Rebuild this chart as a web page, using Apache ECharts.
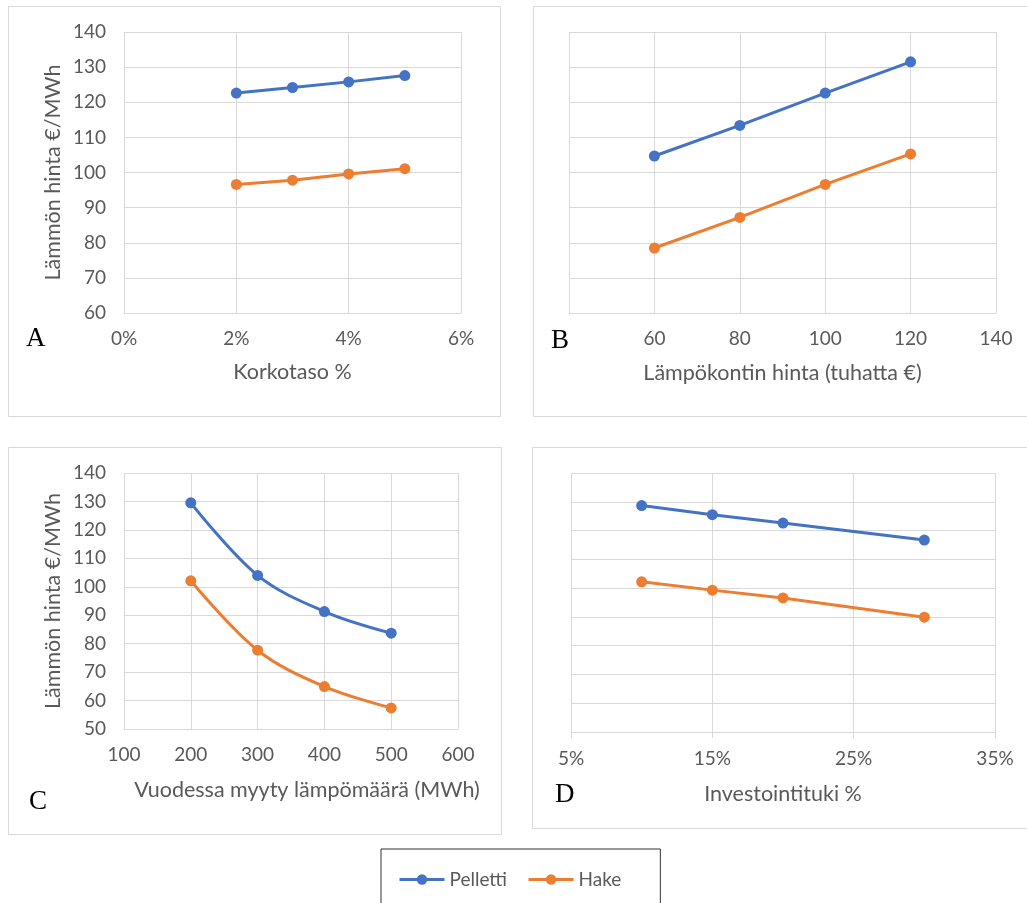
<!DOCTYPE html>
<html>
<head>
<meta charset="utf-8">
<script src="https://cdn.jsdelivr.net/npm/echarts@6/dist/echarts.min.js"></script>
<style>
  html, body { margin: 0; padding: 0; background: #ffffff; }
  #chart { width: 1027px; height: 903px; }
</style>
</head>
<body>
<div id="chart"></div>
<script>
// Series names
const seriesNames = ['Pelletti', 'Hake'];

// A: interest rate (%)
const rateX = [2, 3, 4, 5];
const ratePelletti = [122.6, 124.2, 125.8, 127.6];
const rateHake = [96.6, 97.8, 99.6, 101.1];

// B: heat container price (thousand €)
const priceX = [60, 80, 100, 120];
const pricePelletti = [104.7, 113.4, 122.6, 131.5];
const priceHake = [78.5, 87.2, 96.6, 105.3];

// C: heat sold per year (MWh)
const heatX = [200, 300, 400, 500];
const heatPelletti = [129.5, 104.0, 91.3, 83.7];
const heatHake = [102.1, 77.7, 64.9, 57.4];

// D: investment subsidy (%)
const subsidyX = [10, 15, 20, 30];
const subsidyPelletti = [128.7, 125.5, 122.6, 116.7];
const subsidyHake = [102.2, 99.3, 96.6, 89.9];

// Axis texts
const yTitle = 'Lämmön hinta €/MWh';
const xTitles = ['Korkotaso %', 'Lämpökontin hinta (tuhatta €)', 'Vuodessa myyty lämpömäärä (MWh)', 'Investointituki %'];
const panelLetters = ['A', 'B', 'C', 'D'];

const BLUE = '#4472C4';
const ORANGE = '#ED7D31';
const GRID = '#d9d9d9';
const TEXT = '#595959';
const FONT = 'Lato, "Open Sans", sans-serif';
const TICK_SIZE = 19;
const NAME_SIZE = 21.5;

const zip = (xs, ys) => xs.map((x, i) => [x, ys[i]]);

function xAxis(idx, min, max, interval, fmt, name, opts) {
  return Object.assign({
    type: 'value', gridIndex: idx, min, max, interval,
    name, nameLocation: 'middle', nameGap: 50,
    nameTextStyle: { color: TEXT, fontSize: NAME_SIZE, fontFamily: FONT },
    axisLine: { show: true, lineStyle: { color: GRID, width: 1 } },
    axisTick: { show: false },
    axisLabel: { color: TEXT, fontSize: TICK_SIZE, fontFamily: FONT, margin: 16, formatter: fmt },
    splitLine: { show: true, lineStyle: { color: GRID, width: 1 } }
  }, opts || {});
}

function yAxis(idx, min, max, showLabels, showName) {
  return {
    type: 'value', gridIndex: idx, min, max, interval: 10,
    name: showName ? yTitle : '', nameLocation: 'middle', nameGap: 60,
    nameTextStyle: { color: TEXT, fontSize: NAME_SIZE, fontFamily: FONT },
    axisLine: { show: false },
    axisTick: { show: false },
    axisLabel: { show: showLabels, color: TEXT, fontSize: TICK_SIZE, fontFamily: FONT, margin: 18 },
    splitLine: { show: true, lineStyle: { color: GRID, width: 1 } }
  };
}

function line(name, idx, data, color, smooth) {
  return {
    type: 'line', name, xAxisIndex: idx, yAxisIndex: idx,
    data, smooth: smooth ? 0.35 : false,
    symbol: 'circle', symbolSize: 11,
    lineStyle: { color, width: 3 },
    itemStyle: { color },
    emphasis: { disabled: true }
  };
}

const panelRect = (x, y, w, h) => ({
  type: 'rect', shape: { x, y, width: w, height: h },
  style: { fill: 'none', stroke: GRID, lineWidth: 1 }, silent: true
});
const letter = (t, x, y) => ({
  type: 'text', x, y,
  style: { text: t, fill: '#000', font: '27px "Liberation Serif", "DejaVu Serif", serif', verticalAlign: 'middle' },
  silent: true
});

const option = {
  animation: false,
  backgroundColor: '#ffffff',
  graphic: [
    panelRect(8.5, 6.5, 492, 410),
    panelRect(533.5, 6.5, 500, 410),
    panelRect(8.5, 447.5, 493, 387),
    panelRect(532.5, 447.5, 500, 381),
    letter(panelLetters[0], 26, 339),
    letter(panelLetters[1], 551, 341),
    letter(panelLetters[2], 29, 802),
    letter(panelLetters[3], 555, 795)
  ],
  legend: {
    data: seriesNames,
    left: 381, top: 849,
    padding: [21, 39, 40, 17],
    borderColor: '#333', borderWidth: 1,
    itemWidth: 45, itemHeight: 13, itemGap: 20,
    lineStyle: { width: 3 },
    textStyle: { color: TEXT, fontSize: TICK_SIZE, fontFamily: FONT, padding: [0, 0, 0, 0] }
  },
  grid: [
    { left: 124, top: 32, width: 337, height: 281 },
    { left: 569, top: 32, width: 427, height: 281 },
    { left: 124, top: 473, width: 334, height: 256 },
    { left: 571, top: 473, width: 424, height: 259 }
  ],
  xAxis: [
    xAxis(0, 0, 6, 2, '{value}%', xTitles[0], { nameGap: 48 }),
    xAxis(1, 40, 140, 20, '{value}', xTitles[1], { nameGap: 49, axisLabel: { color: TEXT, fontSize: TICK_SIZE, fontFamily: FONT, margin: 16, showMinLabel: false } }),
    xAxis(2, 100, 600, 100, '{value}', xTitles[2], {
      nameGap: 50,
      nameTextStyle: { color: TEXT, fontSize: NAME_SIZE, fontFamily: FONT, padding: [0, 0, 0, 32] }
    }),
    xAxis(3, 5, 35, 10, '{value}%', xTitles[3], {
      nameGap: 51,
      axisTick: { show: true, length: 6, lineStyle: { color: GRID } },
      axisLabel: { color: TEXT, fontSize: TICK_SIZE, fontFamily: FONT, margin: 17, formatter: '{value}%' }
    })
  ],
  yAxis: [
    yAxis(0, 60, 140, true, true),
    yAxis(1, 60, 140, false, false),
    yAxis(2, 50, 140, true, true),
    yAxis(3, 50, 140, false, false)
  ],
  series: [
    line(seriesNames[0], 0, zip(rateX, ratePelletti), BLUE),
    line(seriesNames[1], 0, zip(rateX, rateHake), ORANGE),
    line(seriesNames[0], 1, zip(priceX, pricePelletti), BLUE),
    line(seriesNames[1], 1, zip(priceX, priceHake), ORANGE),
    line(seriesNames[0], 2, zip(heatX, heatPelletti), BLUE, true),
    line(seriesNames[1], 2, zip(heatX, heatHake), ORANGE, true),
    line(seriesNames[0], 3, zip(subsidyX, subsidyPelletti), BLUE),
    line(seriesNames[1], 3, zip(subsidyX, subsidyHake), ORANGE)
  ]
};

const chart = echarts.init(document.getElementById('chart'), null, { renderer: 'canvas' });
chart.setOption(option);
</script>
</body>
</html>
